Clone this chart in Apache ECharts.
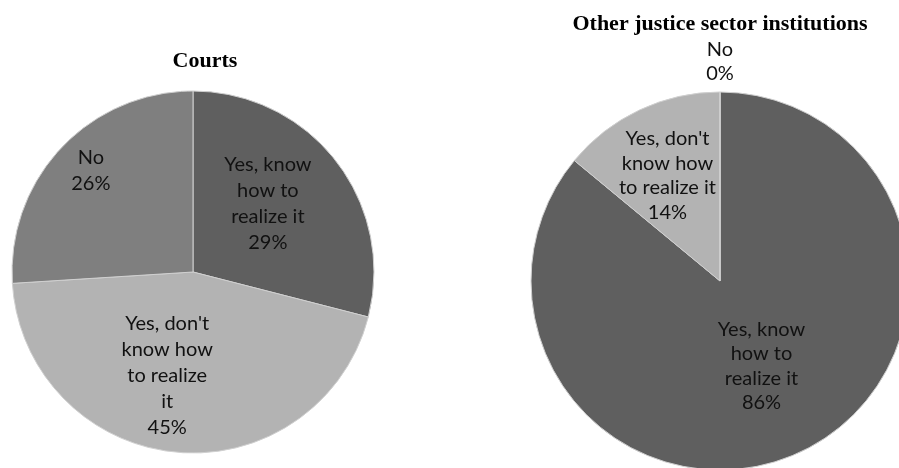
<!DOCTYPE html>
<html>
<head>
<meta charset="utf-8">
<script src="https://cdn.jsdelivr.net/npm/echarts@6/dist/echarts.min.js"></script>
<style>
html,body{margin:0;padding:0;background:#fff;}
#chart{width:899px;height:468px;}
</style>
</head>
<body>
<div id="chart"></div>
<script>
// ---- data ----
var categories = ["Yes, know how to realize it", "Yes, don't know how to realize it", "No"];
var courtsValues = [29, 45, 26];
var otherValues = [86, 14, 0];
var courtsLabelNames = ["Yes, know\nhow to\nrealize it", "Yes, don't\nknow how\nto realize\nit", "No"];
var otherLabelNames = ["Yes, know\nhow to\nrealize it", "Yes, don't\nknow how\nto realize it", "No"];
var titles = ["Courts", "Other justice sector institutions"];

// ---- styles ----
var sliceColors = ["#5f5f5f", "#b3b3b3", "#7f7f7f"];
var courtsLabelShift = [[1, -11], [-17, 10], [-34, -37]];
var otherLabelShift = [[0, -3], [-11, -17], [0, -122]];

function buildData(values, labelNames) {
  return categories.map(function (c, i) {
    return {
      name: c,
      value: values[i],
      itemStyle: { color: sliceColors[i] },
      label: {
        formatter: function (p) { return labelNames[i] + '\n' + Math.round(p.percent) + '%'; }
      }
    };
  });
}

function shiftLayout(shifts) {
  return function (params) {
    var s = shifts[params.dataIndex];
    return { dx: s[0], dy: s[1] };
  };
}

function labelStyle(lh) {
  return {
    show: true,
    position: 'inside',
    fontFamily: 'Lato, "Open Sans", sans-serif',
    fontSize: 20,
    lineHeight: lh,
    color: '#111',
    align: 'center'
  };
}

var titleFont = { fontFamily: '"Liberation Serif", "Times New Roman", serif', fontWeight: 'bold', fontSize: 22, color: '#000' };

var chart = echarts.init(document.getElementById('chart'), null, { renderer: 'canvas' });
chart.setOption({
  animation: false,
  backgroundColor: '#ffffff',
  title: [
    { text: titles[0], left: 200, top: 45, textAlign: 'center', textStyle: titleFont },
    { text: titles[1], left: 715, top: 8, textAlign: 'center', textStyle: titleFont }
  ],
  series: [
    {
      type: 'pie',
      center: [193, 272],
      radius: [0, 181],
      startAngle: 90,
      clockwise: true,
      percentPrecision: 0,
      minShowLabelAngle: -1,
      silent: true,
      itemStyle: { borderColor: '#d0d0d0', borderWidth: 1 },
      label: labelStyle(26),
      labelLine: { show: false },
      labelLayout: shiftLayout(courtsLabelShift),
      emphasis: { disabled: true },
      data: buildData(courtsValues, courtsLabelNames)
    },
    {
      type: 'pie',
      center: [720, 281],
      radius: [0, 189],
      startAngle: 90,
      clockwise: true,
      percentPrecision: 0,
      minShowLabelAngle: -1,
      stillShowZeroSum: true,
      silent: true,
      itemStyle: { borderColor: '#d0d0d0', borderWidth: 1 },
      label: labelStyle(24.5),
      labelLine: { show: false },
      labelLayout: shiftLayout(otherLabelShift),
      emphasis: { disabled: true },
      data: buildData(otherValues, otherLabelNames)
    }
  ]
});
</script>
</body>
</html>
